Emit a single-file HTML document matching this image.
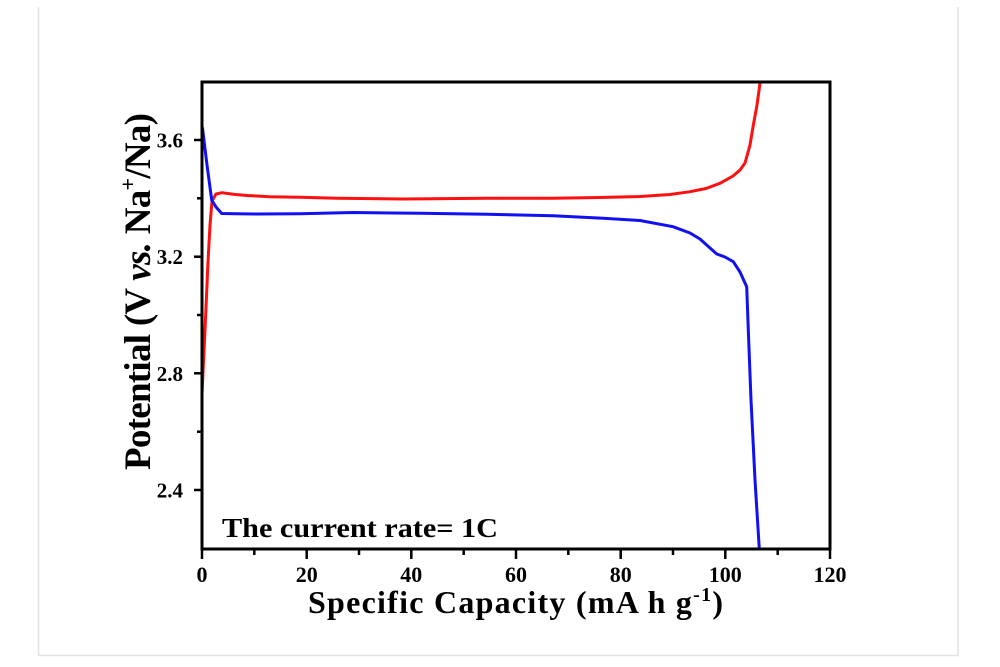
<!DOCTYPE html>
<html>
<head>
<meta charset="utf-8">
<style>
  html, body { margin: 0; padding: 0; background: #ffffff; }
  svg { display: block; }
  text { font-family: "Liberation Serif", "Times New Roman", serif; font-weight: bold; fill: #000; }
</style>
</head>
<body>
<svg width="1000" height="667" viewBox="0 0 1000 667" xmlns="http://www.w3.org/2000/svg">
  <rect x="0" y="0" width="1000" height="667" fill="#ffffff"/>
  <!-- faint frame -->
  <line x1="38.5" y1="7" x2="38.5" y2="655.5" stroke="#e2e2e2" stroke-width="1.5"/>
  <line x1="958" y1="7" x2="958" y2="655.5" stroke="#e2e2e2" stroke-width="1.5"/>
  <line x1="38" y1="655.5" x2="958.5" y2="655.5" stroke="#e2e2e2" stroke-width="1.5"/>

  <defs>
    <clipPath id="pa">
      <rect x="202" y="82" width="628" height="467"/>
    </clipPath>
  </defs>

  <!-- curves -->
  <g clip-path="url(#pa)" fill="none" stroke-width="3" stroke-linejoin="round" stroke-linecap="round">
    <polyline stroke="#ff1010" points="202,394 205,330 208,262 210,225 212,201 216,194 222,192.7 235,194.5 247,195.5 270,196.7 300,197.3 337,198.3 403,199 487,198.3 553,198.3 600,197.5 640,196.5 670,194.5 690,191.7 706,188.5 720,183.3 733,176 740,170 745,163 750,145 753,127 757,105 760,83 761,75"/>
    <polyline stroke="#1010f0" points="202.5,128 207,165 211.7,200 216,207 221.7,213.5 235,213.8 256.7,214 300,213.8 353,212.5 420,213.3 487,214.3 553,215.7 603,218.3 640,220.5 673,226.7 690,233 700,239 716.7,254 725,257 733.3,261.7 740,272 746.7,286.7 748.3,330 751,400 755,480 759.3,549 760,560"/>
  </g>

  <!-- axes box -->
  <rect x="202" y="82" width="628" height="467" fill="none" stroke="#000" stroke-width="3"/>

  <!-- x ticks -->
  <g stroke="#000" stroke-width="2.5">
    <line x1="202" y1="549" x2="202" y2="559"/>
    <line x1="306.7" y1="549" x2="306.7" y2="559"/>
    <line x1="411.3" y1="549" x2="411.3" y2="559"/>
    <line x1="516" y1="549" x2="516" y2="559"/>
    <line x1="620.7" y1="549" x2="620.7" y2="559"/>
    <line x1="725.3" y1="549" x2="725.3" y2="559"/>
    <line x1="830" y1="549" x2="830" y2="559"/>
    <line x1="254.3" y1="549" x2="254.3" y2="555"/>
    <line x1="359" y1="549" x2="359" y2="555"/>
    <line x1="463.7" y1="549" x2="463.7" y2="555"/>
    <line x1="568.3" y1="549" x2="568.3" y2="555"/>
    <line x1="673" y1="549" x2="673" y2="555"/>
    <line x1="777.7" y1="549" x2="777.7" y2="555"/>
  </g>
  <!-- y ticks -->
  <g stroke="#000" stroke-width="2.5">
    <line x1="194" y1="140" x2="202" y2="140"/>
    <line x1="194" y1="256.7" x2="202" y2="256.7"/>
    <line x1="194" y1="373.3" x2="202" y2="373.3"/>
    <line x1="194" y1="490" x2="202" y2="490"/>
    <line x1="197" y1="198.3" x2="202" y2="198.3"/>
    <line x1="197" y1="315" x2="202" y2="315"/>
    <line x1="197" y1="431.7" x2="202" y2="431.7"/>
  </g>

  <!-- x tick labels -->
  <g font-size="22" text-anchor="middle">
    <text x="202" y="582">0</text>
    <text x="306.7" y="582">20</text>
    <text x="411.3" y="582">40</text>
    <text x="516" y="582">60</text>
    <text x="620.7" y="582">80</text>
    <text x="725.3" y="582">100</text>
    <text x="830" y="582">120</text>
  </g>
  <!-- y tick labels -->
  <g font-size="21" text-anchor="end">
    <text x="183" y="147.5">3.6</text>
    <text x="183" y="264.2">3.2</text>
    <text x="183" y="380.8">2.8</text>
    <text x="183" y="497.5">2.4</text>
  </g>

  <!-- x axis title -->
  <text x="308" y="613" font-size="32" textLength="415" lengthAdjust="spacing">Specific Capacity (mA h g<tspan font-size="20" dy="-12">-1</tspan><tspan dy="12">)</tspan></text>

  <!-- y axis title -->
  <text transform="translate(150,470) rotate(-90)" x="0" y="0" font-size="37" textLength="357" lengthAdjust="spacing">Potential (V <tspan font-style="italic">vs.</tspan> Na<tspan font-size="22" dy="-15">+</tspan><tspan dy="15">/Na)</tspan></text>

  <!-- annotation -->
  <text x="222" y="537" font-size="27" textLength="276" lengthAdjust="spacingAndGlyphs">The current rate= 1C</text>
</svg>
</body>
</html>
